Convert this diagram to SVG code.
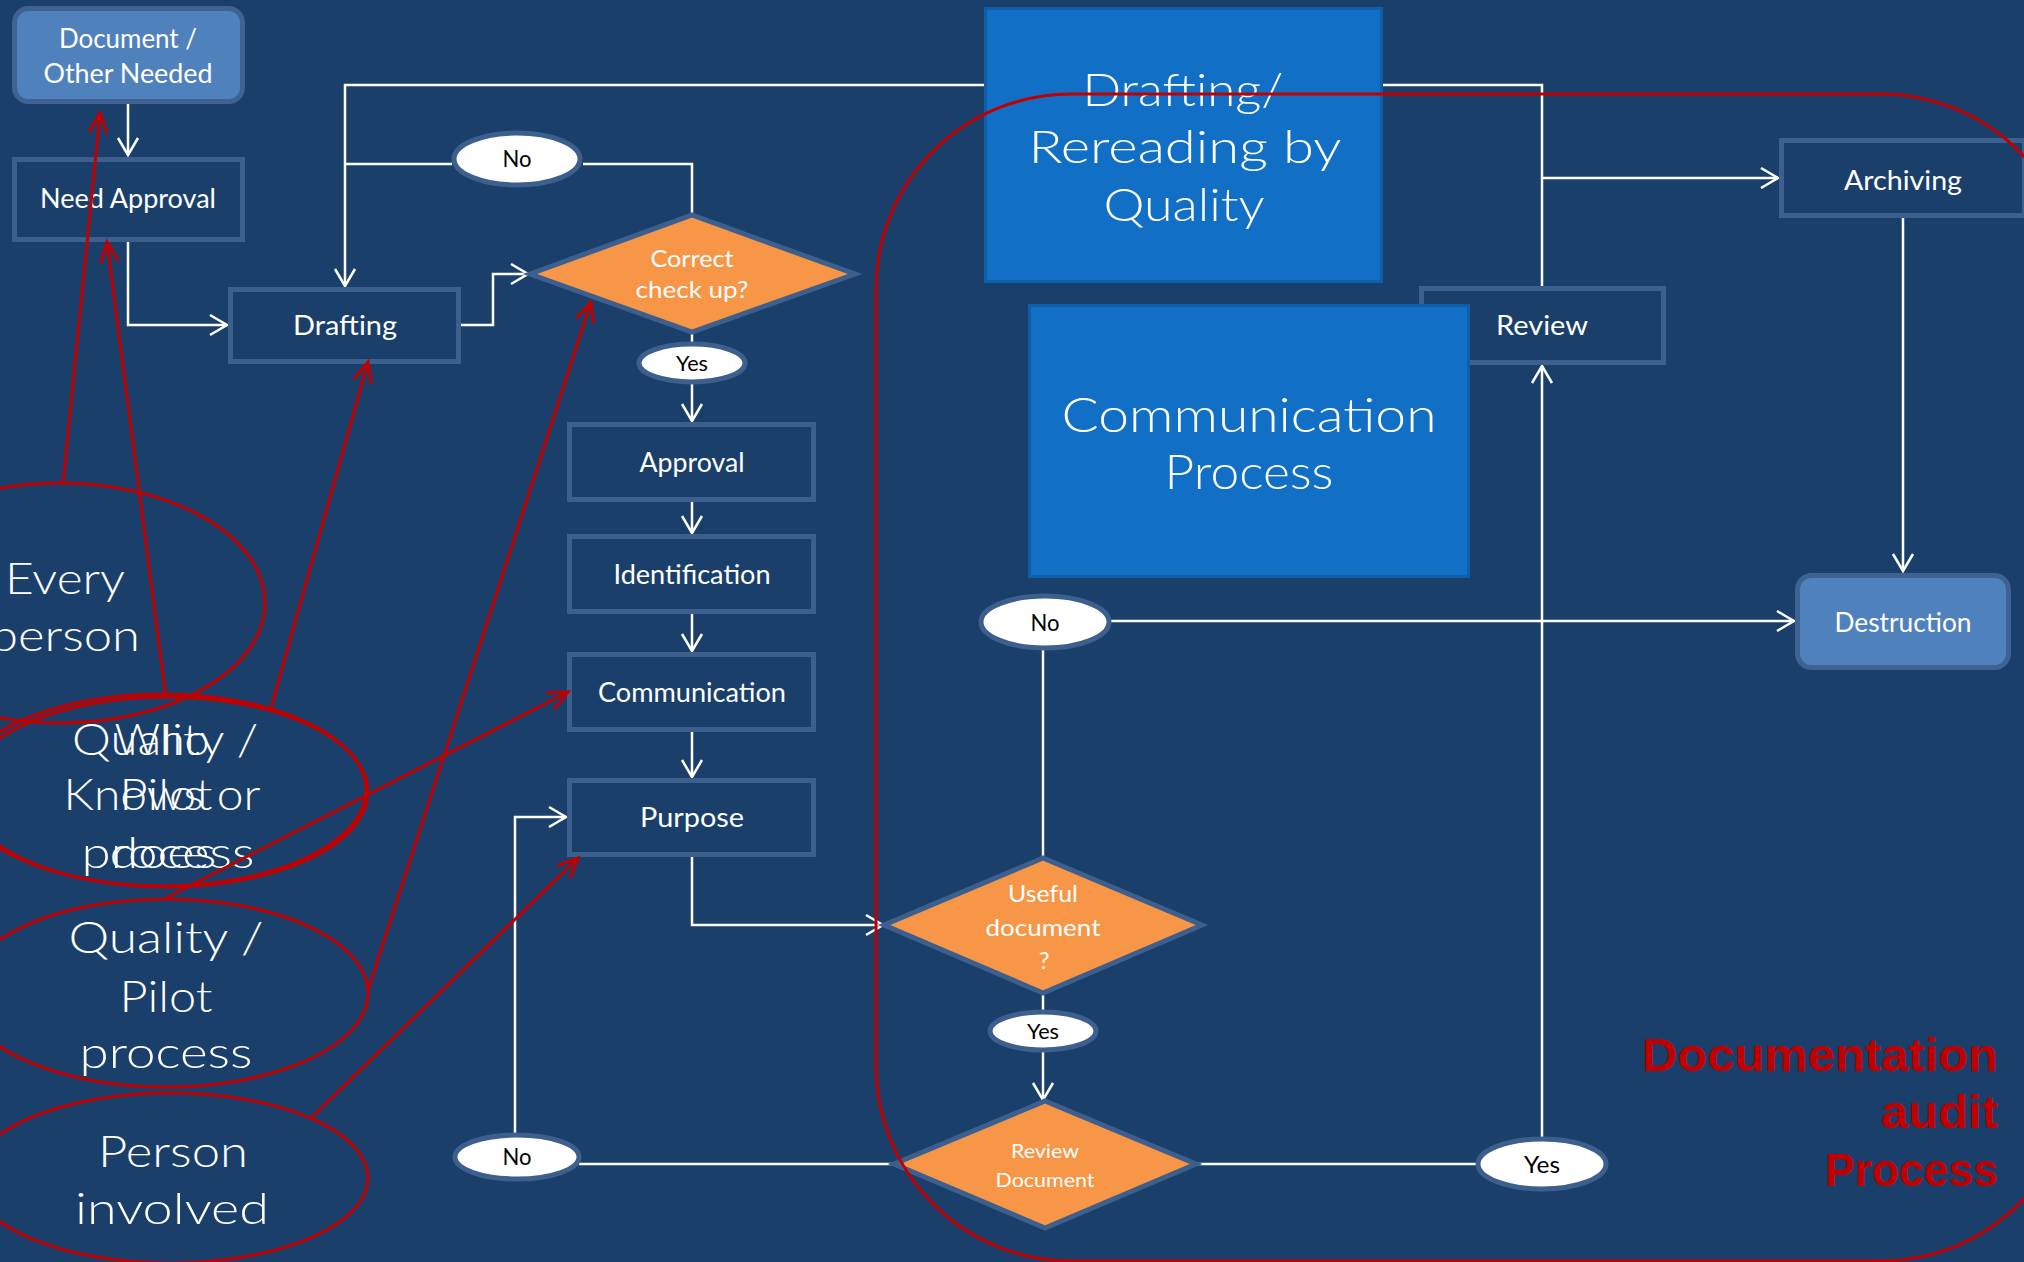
<svg xmlns="http://www.w3.org/2000/svg" width="2024" height="1262" viewBox="0 0 2024 1262">
  <style>
    .box { fill: #1a3f6b; stroke: #3c5f8e; stroke-width: 5; }
    .rbox { fill: #4f81bd; stroke: #3e6291; stroke-width: 5; }
    .big { fill: #1170c6; stroke: #0e5fa8; stroke-width: 3; }
    .dia { fill: #f79646; stroke: #3c5f8e; stroke-width: 5; }
    .tag { fill: #ffffff; stroke: #3c5f8e; stroke-width: 5; }
    .lbl { font-family: Lato, "Open Sans", sans-serif; fill: #ffffff; text-anchor: middle; }
    .tagt { font-family: Lato, "Open Sans", sans-serif; fill: #000000; text-anchor: middle; }
    .thin { font-family: Lato, "Open Sans", sans-serif; font-weight: 300; fill: #ffffff; text-anchor: middle; }
    .conn { fill: none; stroke: #ffffff; stroke-width: 2.5; }
    .call { fill: none; stroke: #c00000; stroke-width: 3; }
    .title { font-family: "Liberation Sans", Arial, sans-serif; font-weight: bold; fill: #c00000; text-anchor: end; }
  </style>
  <defs>
    <marker id="arrW" markerUnits="userSpaceOnUse" viewBox="-22 -13 24 26" markerWidth="24" markerHeight="26" refX="0" refY="0" orient="auto" overflow="visible">
      <path d="M-17,-10 L0,0 L-17,10" fill="none" stroke="#ffffff" stroke-width="2.5"/>
    </marker>
    <marker id="arrR" markerUnits="userSpaceOnUse" viewBox="-24 -13 26 26" markerWidth="26" markerHeight="26" refX="0" refY="0" orient="auto" overflow="visible">
      <path d="M-20,-9 L0,0 L-20,9" fill="none" stroke="#c00000" stroke-width="3"/>
    </marker>
  </defs>

  <rect x="0" y="0" width="2024" height="1262" fill="#1a3f6b"/>

  <!-- white flow connectors -->
  <g id="connectors">
    <path class="conn" d="M128,103 V155" marker-end="url(#arrW)"/>
    <path class="conn" d="M128,242 V325 H227" marker-end="url(#arrW)"/>
    <path class="conn" d="M460,325 H493 V274 H528" marker-end="url(#arrW)"/>
    <path class="conn" d="M692,215 V164 H583"/>
    <path class="conn" d="M452,164 H345"/>
    <path class="conn" d="M1542,287 V85 H345 V286" marker-end="url(#arrW)"/>
    <path class="conn" d="M1542,178 H1778" marker-end="url(#arrW)"/>
    <path class="conn" d="M692,332 V342"/>
    <path class="conn" d="M692,383 V421" marker-end="url(#arrW)"/>
    <path class="conn" d="M692,502 V533" marker-end="url(#arrW)"/>
    <path class="conn" d="M692,614 V651" marker-end="url(#arrW)"/>
    <path class="conn" d="M692,732 V777" marker-end="url(#arrW)"/>
    <path class="conn" d="M692,857 V925 H883" marker-end="url(#arrW)"/>
    <path class="conn" d="M1043,859 V650"/>
    <path class="conn" d="M1110,621 H1794" marker-end="url(#arrW)"/>
    <path class="conn" d="M1043,993 V1011"/>
    <path class="conn" d="M1043,1051 V1100" marker-end="url(#arrW)"/>
    <path class="conn" d="M894,1164 H579"/>
    <path class="conn" d="M515,1135 V817 H566" marker-end="url(#arrW)"/>
    <path class="conn" d="M1196,1164 H1478"/>
    <path class="conn" d="M1542,1140 V366" marker-end="url(#arrW)"/>
    <path class="conn" d="M1903,218 V571" marker-end="url(#arrW)"/>
  </g>

  <g id="n-document">
    <rect class="rbox" x="14.5" y="8.5" width="228" height="93" rx="14"/>
    <text class="lbl" x="128" y="48" font-size="26" textLength="138" lengthAdjust="spacingAndGlyphs">Document /</text>
    <text class="lbl" x="128" y="83" font-size="26" textLength="169" lengthAdjust="spacingAndGlyphs">Other Needed</text>
  </g>
  <g id="n-need-approval">
    <rect class="box" x="14.5" y="159.5" width="228" height="80"/>
    <text class="lbl" x="128" y="208" font-size="27" textLength="176" lengthAdjust="spacingAndGlyphs">Need Approval</text>
  </g>
  <g id="n-drafting">
    <rect class="box" x="230.5" y="289.5" width="228" height="72"/>
    <text class="lbl" x="345" y="335" font-size="27" textLength="104" lengthAdjust="spacingAndGlyphs">Drafting</text>
  </g>
  <g id="n-check">
    <polygon class="dia" points="530,274 692,215 855,274 692,332"/>
    <text class="lbl" x="692" y="267" font-size="24" textLength="83" lengthAdjust="spacingAndGlyphs">Correct</text>
    <text class="lbl" x="692" y="298" font-size="24" textLength="113" lengthAdjust="spacingAndGlyphs">check up?</text>
  </g>
  <g id="n-no-top">
    <ellipse class="tag" cx="517" cy="159" rx="63" ry="26"/>
    <text class="tagt" x="517" y="167" font-size="24" textLength="29" lengthAdjust="spacingAndGlyphs">No</text>
  </g>
  <g id="n-yes-top">
    <ellipse class="tag" cx="692" cy="363" rx="53" ry="19"/>
    <text class="tagt" x="692" y="371" font-size="21" textLength="32" lengthAdjust="spacingAndGlyphs">Yes</text>
  </g>
  <g id="n-approval">
    <rect class="box" x="569.5" y="424.5" width="244" height="75"/>
    <text class="lbl" x="692" y="472" font-size="26" textLength="105" lengthAdjust="spacingAndGlyphs">Approval</text>
  </g>
  <g id="n-identification">
    <rect class="box" x="569.5" y="536.5" width="244" height="75"/>
    <text class="lbl" x="692" y="584" font-size="26" textLength="157" lengthAdjust="spacingAndGlyphs">Identification</text>
  </g>
  <g id="n-communication">
    <rect class="box" x="569.5" y="654.5" width="244" height="75"/>
    <text class="lbl" x="692" y="702" font-size="26" textLength="188" lengthAdjust="spacingAndGlyphs">Communication</text>
  </g>
  <g id="n-purpose">
    <rect class="box" x="569.5" y="780.5" width="244" height="74"/>
    <text class="lbl" x="692" y="827" font-size="26" textLength="104" lengthAdjust="spacingAndGlyphs">Purpose</text>
  </g>
  <g id="n-useful">
    <polygon class="dia" points="884,925 1043,858 1202,925 1043,993"/>
    <text class="lbl" x="1043" y="902" font-size="24" textLength="70" lengthAdjust="spacingAndGlyphs">Useful</text>
    <text class="lbl" x="1043" y="936" font-size="24" textLength="115" lengthAdjust="spacingAndGlyphs">document</text>
    <text class="lbl" x="1044" y="969" font-size="24">?</text>
  </g>
  <g id="n-no-mid">
    <ellipse class="tag" cx="1045" cy="622" rx="64" ry="26"/>
    <text class="tagt" x="1045" y="631" font-size="24" textLength="29" lengthAdjust="spacingAndGlyphs">No</text>
  </g>
  <g id="n-yes-mid">
    <ellipse class="tag" cx="1043" cy="1031" rx="53" ry="19"/>
    <text class="tagt" x="1043" y="1039" font-size="21" textLength="32" lengthAdjust="spacingAndGlyphs">Yes</text>
  </g>
  <g id="n-review-doc">
    <polygon class="dia" points="894,1164 1045,1101 1196,1164 1045,1228"/>
    <text class="lbl" x="1045" y="1158" font-size="20" textLength="68" lengthAdjust="spacingAndGlyphs">Review</text>
    <text class="lbl" x="1045" y="1187" font-size="20" textLength="99" lengthAdjust="spacingAndGlyphs">Document</text>
  </g>
  <g id="n-no-bottom">
    <ellipse class="tag" cx="517" cy="1157" rx="62" ry="22"/>
    <text class="tagt" x="517" y="1165" font-size="24" textLength="29" lengthAdjust="spacingAndGlyphs">No</text>
  </g>
  <g id="n-yes-bottom">
    <ellipse class="tag" cx="1542" cy="1164" rx="64" ry="25"/>
    <text class="tagt" x="1542" y="1173" font-size="24" textLength="36" lengthAdjust="spacingAndGlyphs">Yes</text>
  </g>
  <g id="n-review">
    <rect class="box" x="1421.5" y="288.5" width="242" height="74"/>
    <text class="lbl" x="1542" y="335" font-size="27" textLength="92" lengthAdjust="spacingAndGlyphs">Review</text>
  </g>
  <g id="n-archiving">
    <rect class="box" x="1781.5" y="140.5" width="243" height="75"/>
    <text class="lbl" x="1903" y="190" font-size="27" textLength="118" lengthAdjust="spacingAndGlyphs">Archiving</text>
  </g>
  <g id="n-destruction">
    <rect class="rbox" x="1797.5" y="575.5" width="211" height="92" rx="14"/>
    <text class="lbl" x="1903" y="632" font-size="26" textLength="137" lengthAdjust="spacingAndGlyphs">Destruction</text>
  </g>
  <g id="n-rereading">
    <rect class="big" x="985.5" y="8.5" width="396" height="273"/>
    <text class="thin" x="1183" y="106" font-size="46" textLength="201" lengthAdjust="spacingAndGlyphs">Drafting/</text>
    <text class="thin" x="1185" y="163" font-size="46" textLength="313" lengthAdjust="spacingAndGlyphs">Rereading by</text>
    <text class="thin" x="1184" y="221" font-size="46" textLength="161" lengthAdjust="spacingAndGlyphs">Quality</text>
  </g>
  <g id="n-comm-process">
    <rect class="big" x="1029.5" y="305.5" width="439" height="271"/>
    <text class="thin" x="1249" y="432" font-size="48" textLength="375" lengthAdjust="spacingAndGlyphs">Communication</text>
    <text class="thin" x="1249" y="489" font-size="48" textLength="169" lengthAdjust="spacingAndGlyphs">Process</text>
  </g>

  <!-- audit frame and its heading -->
  <g id="audit-frame">
    <rect class="call" x="876" y="94" width="1200" height="1167" rx="195"/>
    <text class="title" x="1998" y="1071" font-size="46" textLength="356" lengthAdjust="spacingAndGlyphs">Documentation</text>
    <text class="title" x="1998" y="1128" font-size="46" textLength="117" lengthAdjust="spacingAndGlyphs">audit</text>
    <text class="title" x="1998" y="1186" font-size="46" textLength="173" lengthAdjust="spacingAndGlyphs">Process</text>
  </g>

  <!-- role callouts -->
  <g id="c-every-person">
    <ellipse class="call" cx="60" cy="603" rx="205" ry="120"/>
    <text class="thin" x="65" y="594" font-size="44" textLength="120" lengthAdjust="spacingAndGlyphs">Every</text>
    <text class="thin" x="65" y="651" font-size="44" textLength="150" lengthAdjust="spacingAndGlyphs">person</text>
  </g>
  <g id="c-who">
    <ellipse class="call" cx="162" cy="790" rx="204" ry="96"/>
    <text class="thin" x="162" y="755" font-size="44" textLength="95" lengthAdjust="spacingAndGlyphs">Who</text>
    <text class="thin" x="162" y="810" font-size="44" textLength="197" lengthAdjust="spacingAndGlyphs">Knows or</text>
    <text class="thin" x="163" y="868" font-size="44" textLength="107" lengthAdjust="spacingAndGlyphs">does</text>
  </g>
  <g id="c-quality-a">
    <ellipse class="call" cx="166" cy="792" rx="202" ry="95"/>
    <text class="thin" x="165" y="755" font-size="44" textLength="186" lengthAdjust="spacingAndGlyphs">Quality /</text>
    <text class="thin" x="166" y="810" font-size="44" textLength="93" lengthAdjust="spacingAndGlyphs">Pilot</text>
    <text class="thin" x="168" y="868" font-size="44" textLength="173" lengthAdjust="spacingAndGlyphs">process</text>
  </g>
  <g id="c-quality-b">
    <ellipse class="call" cx="166" cy="993" rx="202" ry="94"/>
    <text class="thin" x="166" y="953" font-size="44" textLength="195" lengthAdjust="spacingAndGlyphs">Quality /</text>
    <text class="thin" x="166" y="1012" font-size="44" textLength="93" lengthAdjust="spacingAndGlyphs">Pilot</text>
    <text class="thin" x="166" y="1068" font-size="44" textLength="173" lengthAdjust="spacingAndGlyphs">process</text>
  </g>
  <g id="c-person-involved">
    <ellipse class="call" cx="170" cy="1178" rx="198" ry="85"/>
    <text class="thin" x="173" y="1167" font-size="44" textLength="150" lengthAdjust="spacingAndGlyphs">Person</text>
    <text class="thin" x="172" y="1224" font-size="44" textLength="194" lengthAdjust="spacingAndGlyphs">involved</text>
  </g>

  <!-- callout pointers -->
  <g id="callout-links">
    <path class="call" d="M63,484 L100,113" marker-end="url(#arrR)"/>
    <path class="call" d="M166,698 L107,242" marker-end="url(#arrR)"/>
    <path class="call" d="M271,708 L368,362" marker-end="url(#arrR)"/>
    <path class="call" d="M368,990 L591,302" marker-end="url(#arrR)"/>
    <path class="call" d="M166,898 L568,692" marker-end="url(#arrR)"/>
    <path class="call" d="M312,1117 L578,858" marker-end="url(#arrR)"/>
  </g>
</svg>
